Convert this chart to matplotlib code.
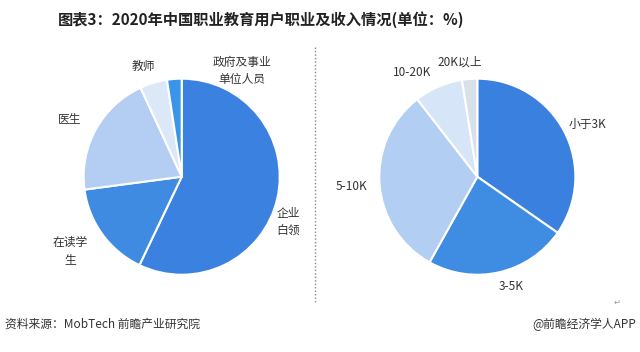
import matplotlib
matplotlib.use('Agg')
import matplotlib.pyplot as plt
from matplotlib.lines import Line2D

plt.rcParams['font.family'] = ['Noto Sans CJK SC', 'DejaVu Sans']

# ---------------- data ----------------
job_labels = ['企业\n白领', '在读学\n生', '医生', '教师', '政府及事业\n单位人员']
job_values = [57.1, 15.8, 20.2, 4.5, 2.4]
job_colors = ['#3b82e0', '#3f8be2', '#b3cdf3', '#dce8f8', '#3a95e8']

income_labels = ['小于3K', '3-5K', '5-10K', '10-20K', '20K以上']
income_values = [34.7, 23.4, 31.4, 8.0, 2.5]
income_colors = ['#3a80df', '#3f8de2', '#b3cef3', '#d7e5f8', '#d8e0ea']

# label positions (figure pixels, from top-left)
job_label_pos = [(288, 222), (70, 251), (70, 119), (143, 66), (242, 71)]
income_label_pos = [(587, 124), (511, 287), (352, 187), (412, 72), (460, 62)]

W, H = 640, 352
fig = plt.figure(figsize=(W / 100, H / 100), dpi=100)
fig.patch.set_facecolor('white')


def pie_axes(cx, cy, r=100):
    ax = fig.add_axes([(cx - r) / W, (H - cy - r) / H, 2 * r / W, 2 * r / H])
    return ax


def finish(ax):
    # pie() resets the limits, so set them afterwards
    ax.set_xlim(-1.02, 1.02)
    ax.set_ylim(-1.02, 1.02)
    ax.set_aspect('equal')
    ax.axis('off')


ax1 = pie_axes(181.7, 176.7)
ax1.pie(job_values, colors=job_colors, startangle=90, counterclock=False,
        radius=1.0, wedgeprops=dict(edgecolor='white', linewidth=1.5))
finish(ax1)

ax2 = pie_axes(477.3, 176.7)
ax2.pie(income_values, colors=income_colors, startangle=90, counterclock=False,
        radius=1.0, wedgeprops=dict(edgecolor='white', linewidth=1.5))
finish(ax2)

for lab, (x, y) in zip(job_labels + income_labels, job_label_pos + income_label_pos):
    fig.text(x / W, 1 - y / H, lab, ha='center', va='center', fontsize=8.5,
             color='#333333', linespacing=1.5)

# title
fig.text(261 / W, 1 - 20 / H, '图表3：2020年中国职业教育用户职业及收入情况(单位：%)',
         ha='center', va='center', fontsize=11, fontweight='bold', color='#222222')

# dotted separator
fig.add_artist(Line2D([315 / W, 315 / W], [1 - 47 / H, 1 - 302 / H],
                      transform=fig.transFigure, color='#888888',
                      linestyle=(0, (1, 1.5)), linewidth=1))

# footer
fig.text(5 / W, 1 - 324 / H, '资料来源：MobTech 前瞻产业研究院', ha='left', va='center',
         fontsize=8.5, color='#333333')
fig.text(636 / W, 1 - 324 / H, '@前瞻经济学人APP', ha='right', va='center',
         fontsize=8.5, color='#333333')
fig.text(617 / W, 1 - 302 / H, '↵', ha='center', va='center',
         fontsize=6, color='#999999', family=['DejaVu Sans'])

fig.savefig('out.png', dpi=100, facecolor='white')
